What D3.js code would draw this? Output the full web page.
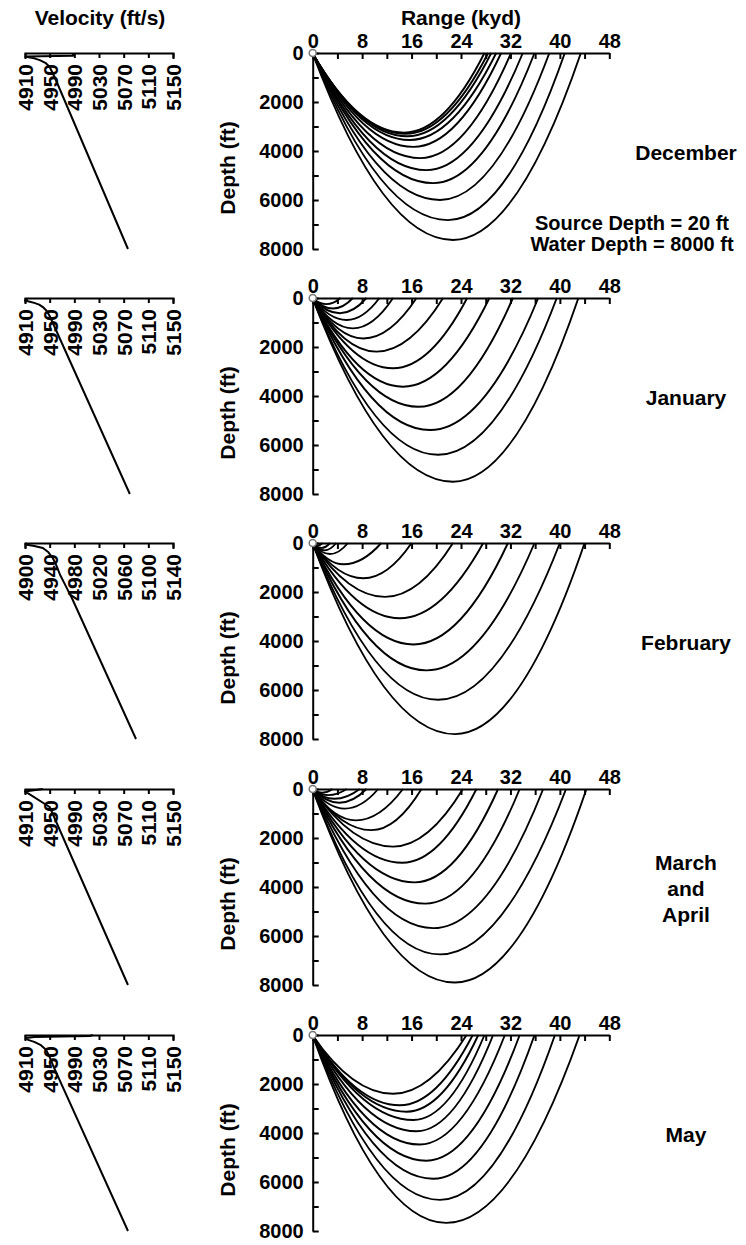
<!DOCTYPE html>
<html>
<head>
<meta charset="utf-8">
<script src="https://cdn.jsdelivr.net/npm/d3@7"></script>
<style>
  body { margin: 0; background: #fff; }
  text { font-family: "Liberation Sans", Arial, sans-serif; font-weight: bold; fill: #000; }
  .tick text { font-size: 20px; }
  .vel-axis .tick text { font-size: 21px; }
  .title { font-size: 21px; }
  .note { font-size: 20px; }
  .domain, .tick line { stroke: #000; stroke-width: 2; }
</style>
</head>
<body>
<svg id="chart" width="746" height="1245"></svg>
<script>
// Ray data: [range of turning point (kyd), depth of turning point (ft), range back at surface (kyd)]
const decRays = [
  [14.8, 3250, 27.8], [15.0, 3300, 28.4], [15.3, 3400, 28.9], [15.7, 3550, 29.7],
  [16.3, 3830, 30.5], [17.4, 4290, 32.1], [18.4, 4780, 34.0], [19.5, 5310, 35.9],
  [20.6, 6000, 38.3], [21.9, 6820, 40.8], [22.7, 7630, 43.4]
];
const janRays = [
  [2.2, 250, 4.5], [3.3, 430, 6.5], [4.4, 620, 8.7], [5.5, 900, 10.8], [6.5, 1240, 13.0],
  [8.2, 1650, 16.8], [10.3, 2190, 21.1], [13.0, 2870, 25.0], [14.6, 3620, 28.6],
  [17.1, 4440, 32.4], [19.0, 5390, 36.5], [20.3, 6400, 39.5], [22.7, 7500, 43.0]
];
const febRays = [
  [0.8, 100, 1.6], [1.4, 200, 2.8], [1.9, 300, 3.8], [2.8, 450, 5.7], [5.0, 870, 11.1],
  [8.2, 1440, 16.0], [11.7, 2200, 22.7], [14.1, 3070, 27.6], [16.3, 4140, 31.6],
  [18.4, 5200, 35.9], [20.3, 6400, 40.0], [23.0, 7800, 44.0]
];
const marRays = [
  [1.5, 150, 3.2], [2.5, 250, 5.5], [3.5, 400, 7.6], [4.3, 560, 8.7], [5.2, 800, 10.6],
  [7.0, 1280, 14.6], [9.5, 1680, 17.6], [13.0, 2350, 24.3], [14.5, 3010, 26.5],
  [16.5, 3810, 30.0], [18.2, 4680, 33.5], [19.5, 5680, 37.3], [20.6, 6750, 41.0],
  [23.0, 7900, 44.3]
];
const mayRays = [
  [13.0, 2400, 24.9], [14.1, 2870, 25.9], [15.2, 3130, 26.8], [16.3, 3470, 27.8],
  [16.8, 3930, 29.2], [17.3, 4470, 31.1], [18.4, 5130, 33.5], [19.5, 5870, 35.9],
  [20.6, 6730, 39.2], [21.6, 7670, 43.2]
];

// Sound velocity profiles: [velocity (ft/s), depth (ft)]
const decVelocity = [[4988, 0], [4988, 110], [4911, 140], [4918, 180], [4925, 220], [4934, 290], [4943, 400], [4950, 570], [4958, 980], [5077, 8000]];
const janVelocity = [[4913, 0], [4913, 70], [4910, 100], [4918, 150], [4925, 200], [4933, 270], [4939, 370], [4945, 520], [4950, 735], [5080, 8000]];
const febVelocity = [[4903, 0], [4901, 60], [4908, 90], [4915, 120], [4929, 204], [4938, 380], [4945, 612], [4951, 920], [4957, 1306], [4966, 1750], [4976, 2245], [5080, 8000]];
const marVelocity = [[4939, 0], [4910, 100], [4950, 735], [5077, 8000]];
const mayVelocity = [[5020, 0], [5015, 40], [4925, 80], [4912, 120], [4915, 200], [4925, 280], [4935, 400], [4944, 600], [4950, 900], [4957, 1330], [5077, 8000]];

const monthLabels = [['December'], ['January'], ['February'], ['March', 'and', 'April'], ['May']];
const velTicksA = [4910, 4950, 4990, 5030, 5070, 5110, 5150];
const velTicksB = [4900, 4940, 4980, 5020, 5060, 5100, 5140];
const rangeTicks = [0, 4, 8, 12, 16, 20, 24, 28, 32, 36, 40, 44, 48];
const depthTicks = [0, 1000, 2000, 3000, 4000, 5000, 6000, 7000, 8000];
const sourceDepth = 20;
const notes = ['Source Depth = 20 ft', 'Water Depth = 8000 ft'];

const panels = [
  { label: monthLabels[0], rays: decRays, vel: decVelocity, velTicks: velTicksA },
  { label: monthLabels[1], rays: janRays, vel: janVelocity, velTicks: velTicksA },
  { label: monthLabels[2], rays: febRays, vel: febVelocity, velTicks: velTicksB },
  { label: monthLabels[3], rays: marRays, vel: marVelocity, velTicks: velTicksA },
  { label: monthLabels[4], rays: mayRays, vel: mayVelocity, velTicks: velTicksA }
];

const svg = d3.select('#chart');
const panelTops = [53, 298, 543, 789, 1035];
const panelH = 196;

const x = d3.scaleLinear().domain([0, 48]).range([312.7, 609.3]);

// column titles
svg.append('text').attr('class', 'title').attr('x', 100).attr('y', 25)
  .attr('text-anchor', 'middle').text('Velocity (ft/s)');
svg.append('text').attr('class', 'title').attr('x', 461).attr('y', 25)
  .attr('text-anchor', 'middle').text('Range (kyd)');

panels.forEach((p, i) => {
  const top = panelTops[i];
  const y = d3.scaleLinear().domain([0, 8000]).range([top, top + panelH]);
  const g = svg.append('g');

  // ---- velocity profile ----
  const v = d3.scaleLinear().domain(d3.extent(p.velTicks)).range([25, 173]);
  const vAxis = g.append('g')
    .attr('class', 'vel-axis')
    .attr('transform', `translate(0,${top})`)
    .call(d3.axisBottom(v).tickValues(p.velTicks).tickFormat(d3.format('d'))
      .tickSizeInner(5).tickSizeOuter(6));
  vAxis.selectAll('text')
    .attr('transform', 'rotate(-90)')
    .attr('text-anchor', 'end')
    .attr('x', -11).attr('y', 0).attr('dy', '0.36em');

  g.append('path')
    .datum(p.vel)
    .attr('fill', 'none')
    .attr('stroke', '#000')
    .attr('stroke-width', 2)
    .attr('stroke-linejoin', 'round')
    .attr('d', d3.line().x(d => v(d[0])).y(d => y(d[1])));

  // ---- ray traces ----
  g.append('g')
    .attr('transform', `translate(0,${top})`)
    .call(d3.axisTop(x).tickValues(rangeTicks)
      .tickFormat(d => d % 8 === 0 ? d : '')
      .tickSizeInner(-6).tickSizeOuter(0).tickPadding(5));

  g.append('g')
    .attr('transform', `translate(${x(0)},0)`)
    .call(d3.axisLeft(y).tickValues(depthTicks)
      .tickFormat(d => d % 2000 === 0 ? d : '')
      .tickSizeInner(-6).tickSizeOuter(0).tickPadding(9));

  g.append('g').selectAll('path')
    .data(p.rays)
    .join('path')
    .attr('fill', 'none')
    .attr('stroke', '#000')
    .attr('stroke-width', 1.9)
    .attr('d', r => {
      const [xb, zb, xe] = r;
      const path = d3.path();
      path.moveTo(x(0), y(sourceDepth));
      path.quadraticCurveTo(x(xb / 2), y(zb), x(xb), y(zb));
      path.quadraticCurveTo(x((xb + xe) / 2), y(zb), x(xe), y(0));
      return path.toString();
    });

  // source marker
  g.append('circle')
    .attr('cx', x(0)).attr('cy', y(0)).attr('r', 3.5)
    .attr('fill', '#fff').attr('stroke', '#777').attr('stroke-width', 1.5);

  g.append('text')
    .attr('class', 'title')
    .attr('transform', `translate(235,${top + 115}) rotate(-90)`)
    .attr('text-anchor', 'middle')
    .text('Depth (ft)');

  // month label
  const lines = p.label;
  const cy = top + 100;
  g.append('text')
    .attr('class', 'title')
    .attr('text-anchor', 'middle')
    .selectAll('tspan')
    .data(lines)
    .join('tspan')
    .attr('x', 686)
    .attr('y', (d, k) => cy + 7 + (k - (lines.length - 1) / 2) * 26)
    .text(d => d);
});

svg.append('g').selectAll('text')
  .data(notes)
  .join('text')
  .attr('class', 'note')
  .attr('text-anchor', 'middle')
  .attr('x', 632)
  .attr('y', (d, k) => 230 + k * 21)
  .text(d => d);
</script>
</body>
</html>
